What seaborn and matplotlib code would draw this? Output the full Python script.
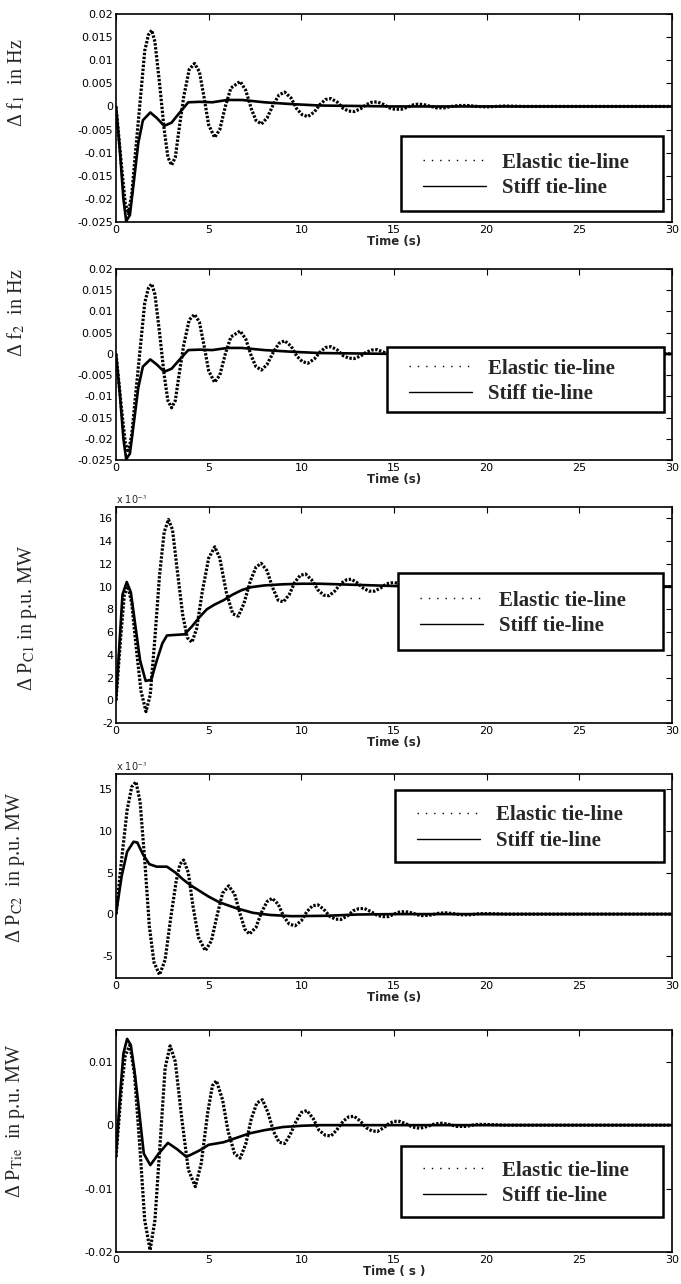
import numpy as np
import pandas as pd
import matplotlib
matplotlib.use("Agg")
import matplotlib.pyplot as plt
import seaborn as sns
from matplotlib.lines import Line2D
from matplotlib.patches import Rectangle
from matplotlib.ticker import FuncFormatter, MultipleLocator

# ---------------- data ----------------
# Panel 1 / 2 : frequency deviations (Hz)
f1_el_t = [0, 0.3, 0.5, 0.67, 0.85, 1.05, 1.3, 1.55, 1.75, 1.93, 2.1, 2.35, 2.6, 2.8, 3.0,
           3.2, 3.4, 3.65, 3.95, 4.24, 4.5, 4.75, 5.0, 5.32, 5.6, 5.9, 6.2, 6.7, 7.0, 7.3,
           7.55, 7.85, 8.15, 8.5, 8.8, 9.1, 9.45, 9.75, 10.05, 10.35, 10.7, 11.0, 11.3, 11.6,
           11.95, 12.25, 12.55, 12.85, 13.2, 13.5, 13.8, 14.1, 14.45, 14.75, 15.05, 15.4,
           15.7, 16.0, 16.3, 16.6, 17.0, 17.3, 17.7, 18.1, 18.5, 19.0, 19.5, 20.0, 21.0, 22.0, 30.0]
f1_el_v = [0, -0.013, -0.021, -0.0232, -0.019, -0.010, 0.001, 0.012, 0.0155, 0.0165, 0.014,
           0.005, -0.005, -0.011, -0.0127, -0.011, -0.005, 0.002, 0.0080, 0.0093, 0.0075,
           0.002, -0.004, -0.0067, -0.005, 0.000, 0.0040, 0.0054, 0.0035, -0.0005, -0.0030,
           -0.0038, -0.0025, 0.0005, 0.0025, 0.0031, 0.0018, -0.0005, -0.0018, -0.0022,
           -0.0012, 0.0004, 0.0015, 0.0017, 0.0009, -0.0004, -0.0010, -0.0011, -0.0005,
           0.0004, 0.0009, 0.0010, 0.0004, -0.0003, -0.0006, -0.0006, -0.0002, 0.0003,
           0.0005, 0.0004, 0.0000, -0.0003, -0.0003, 0.0000, 0.0002, 0.0002, 0.0000,
           -0.0001, 0.0001, 0.0, 0.0]
f1_st_t = [0, 0.2, 0.4, 0.55, 0.75, 1.0, 1.2, 1.45, 1.85, 2.2, 2.6, 3.0, 3.4, 3.9, 4.5, 5.2,
           6.0, 6.8, 8.0, 9.5, 11.0, 13.0, 15.0, 30.0]
f1_st_v = [0, -0.009, -0.020, -0.0248, -0.0235, -0.015, -0.008, -0.003, -0.0013, -0.0025,
           -0.0042, -0.0035, -0.0015, 0.0009, 0.0010, 0.0009, 0.0014, 0.0014, 0.0009,
           0.0005, 0.0002, 0.0001, 0.0, 0.0]
f2_el_t = list(f1_el_t)
f2_el_v = list(f1_el_v)
f2_st_t = list(f1_st_t)
f2_st_v = list(f1_st_v)

# Panel 3 : Delta P_C1 (x 10^-3 p.u. MW)
pc1_el_t = [0, 0.25, 0.45, 0.65, 0.85, 1.1, 1.35, 1.62, 1.85, 2.1, 2.35, 2.6, 2.83, 3.05,
            3.3, 3.6, 3.85, 4.1, 4.35, 4.65, 5.0, 5.33, 5.6, 5.95, 6.3, 6.6, 6.9, 7.25, 7.55,
            7.83, 8.15, 8.45, 8.75, 9.03, 9.35, 9.65, 9.95, 10.23, 10.55, 10.9, 11.2, 11.5,
            11.8, 12.15, 12.45, 12.7, 13.0, 13.35, 13.65, 13.95, 14.3, 14.6, 14.95, 15.25,
            15.6, 16.0, 16.4, 16.8, 17.2, 17.7, 18.2, 18.7, 19.2, 19.7, 20.2, 20.8, 21.4,
            22.0, 22.6, 23.3, 30.0]
pc1_el_v = [0, 5.5, 9.3, 10.0, 8.5, 4.5, 0.8, -1.0, 0.5, 5.5, 11.0, 14.8, 15.9, 15.0, 11.5,
            7.5, 5.5, 5.1, 6.3, 9.5, 12.5, 13.5, 12.5, 9.5, 7.6, 7.4, 8.5, 10.5, 11.7, 12.05,
            11.4, 9.9, 8.8, 8.65, 9.3, 10.4, 11.0, 11.1, 10.6, 9.7, 9.25, 9.2, 9.6, 10.3,
            10.6, 10.65, 10.35, 9.85, 9.6, 9.6, 9.9, 10.25, 10.35, 10.3, 10.05, 9.85, 9.8,
            10.0, 10.15, 10.2, 10.05, 9.92, 9.95, 10.08, 10.1, 10.0, 9.95, 10.0, 10.05, 10.0,
            10.0]
pc1_st_t = [0, 0.15, 0.35, 0.58, 0.8, 1.05, 1.3, 1.6, 1.9, 2.2, 2.5, 2.75, 3.2, 3.7, 4.1,
            4.5, 4.9, 5.3, 5.8, 6.3, 6.8, 7.3, 8.0, 9.0, 10.0, 11.0, 12.0, 13.0, 14.0, 15.0,
            17.0, 30.0]
pc1_st_v = [0, 4.0, 9.3, 10.4, 9.5, 6.5, 3.5, 1.7, 1.8, 3.5, 5.0, 5.7, 5.75, 5.8, 6.5, 7.3,
            8.0, 8.4, 8.8, 9.3, 9.7, 9.95, 10.1, 10.2, 10.25, 10.25, 10.2, 10.15, 10.1, 10.05,
            10.0, 10.0]

# Panel 4 : Delta P_C2 (x 10^-3 p.u. MW)
pc2_el_t = [0, 0.3, 0.6, 0.85, 1.08, 1.3, 1.55, 1.8, 2.05, 2.35, 2.65, 2.95, 3.25, 3.45,
            3.65, 3.9, 4.15, 4.45, 4.82, 5.15, 5.45, 5.75, 6.08, 6.4, 6.7, 6.95, 7.2, 7.55,
            7.85, 8.15, 8.43, 8.75, 9.05, 9.35, 9.66, 10.0, 10.3, 10.6, 10.9, 11.2, 11.55,
            11.85, 12.13, 12.5, 12.8, 13.1, 13.4, 13.75, 14.1, 14.4, 14.7, 15.0, 15.3, 15.6,
            15.95, 16.3, 16.6, 17.0, 17.4, 17.8, 18.2, 18.6, 19.1, 19.6, 20.2, 21.0, 30.0]
pc2_el_v = [0, 6.5, 12.5, 15.3, 15.9, 13.5, 6.5, -1.5, -5.8, -7.3, -5.5, -0.5, 4.0, 6.0,
            6.5, 5.0, 1.0, -2.8, -4.4, -3.2, -0.2, 2.5, 3.4, 2.4, 0.0, -1.8, -2.4, -1.6, 0.2,
            1.5, 1.9, 1.2, -0.3, -1.2, -1.4, -0.8, 0.3, 1.0, 1.1, 0.6, -0.3, -0.6, -0.65,
            -0.2, 0.4, 0.65, 0.68, 0.3, -0.15, -0.3, -0.3, 0.0, 0.25, 0.3, 0.15, -0.1, -0.2,
            -0.1, 0.1, 0.15, 0.05, -0.08, -0.08, 0.05, 0.05, 0.0, 0.0]
pc2_st_t = [0, 0.3, 0.6, 0.95, 1.15, 1.45, 1.8, 2.2, 2.75, 3.2, 3.6, 4.0, 4.5, 5.0, 5.6,
            6.5, 7.4, 8.3, 9.5, 11.4, 13.0, 15.0, 30.0]
pc2_st_v = [0, 4.5, 7.5, 8.7, 8.6, 7.2, 6.0, 5.7, 5.7, 5.0, 4.2, 3.5, 2.8, 2.1, 1.4, 0.7,
            0.15, -0.1, -0.25, -0.2, -0.05, 0.0, 0.0]

# Panel 5 : Delta P_Tie (p.u. MW)
ptie_el_t = [0, 0.3, 0.5, 0.75, 1.0, 1.3, 1.55, 1.84, 2.1, 2.4, 2.65, 2.92, 3.2, 3.55, 3.9,
             4.28, 4.6, 4.95, 5.2, 5.42, 5.75, 6.05, 6.4, 6.7, 7.0, 7.3, 7.6, 7.9, 8.2, 8.5,
             8.8, 9.1, 9.4, 9.7, 10.0, 10.3, 10.65, 10.95, 11.3, 11.6, 11.9, 12.25, 12.55,
             12.85, 13.2, 13.5, 13.8, 14.1, 14.45, 14.75, 15.0, 15.3, 15.65, 16.0, 16.4,
             16.8, 17.2, 17.6, 18.0, 18.4, 18.9, 19.4, 20.0, 21.0, 30.0]
ptie_el_v = [-0.005, 0.006, 0.011, 0.0126, 0.008, -0.004, -0.015, -0.0197, -0.015, -0.002,
             0.009, 0.0125, 0.010, 0.001, -0.007, -0.0097, -0.006, 0.002, 0.0062, 0.007,
             0.004, -0.001, -0.0045, -0.0052, -0.003, 0.001, 0.0035, 0.004, 0.002, -0.001,
             -0.0027, -0.0029, -0.0015, 0.0005, 0.002, 0.0023, 0.001, -0.0008, -0.0016,
             -0.0017, -0.0008, 0.0006, 0.0013, 0.0014, 0.0006, -0.0004, -0.0009, -0.0010,
             -0.0004, 0.0003, 0.0006, 0.0006, 0.0002, -0.0003, -0.0005, -0.0002, 0.0002,
             0.0003, 0.0001, -0.0002, -0.0002, 0.0001, 0.0001, 0.0, 0.0]
ptie_st_t = [0, 0.2, 0.4, 0.6, 0.8, 1.0, 1.2, 1.5, 1.85, 2.3, 2.8, 3.3, 3.8, 4.5, 5.0, 5.8,
             6.5, 7.2, 8.0, 9.0, 10.0, 11.0, 30.0]
ptie_st_v = [-0.005, 0.004, 0.0113, 0.0136, 0.0126, 0.0085, 0.0035, -0.0045, -0.0063,
             -0.0045, -0.0028, -0.0038, -0.0050, -0.0040, -0.0031, -0.0027, -0.0020,
             -0.0013, -0.0008, -0.0003, -0.0001, 0.0, 0.0]

x_ticks = [0, 5, 10, 15, 20, 25, 30]
legend_labels = ["Elastic tie-line", "Stiff tie-line"]
y_labels = [r"Δ f$_1$  in Hz", r"Δ f$_2$  in Hz", r"Δ P$_{\mathrm{C1}}$ in p.u. MW",
            r"Δ P$_{\mathrm{C2}}$  in p.u. MW", r"Δ P$_{\mathrm{Tie}}$  in p.u. MW"]
x_labels = ["Time (s)", "Time (s)", "Time (s)", "Time (s)", "Time ( s )"]

# ---------------- styling / layout ----------------
sns.set_theme(style="white")
plt.rcParams["font.family"] = ["DejaVu Sans"]
plt.rcParams["mathtext.fontset"] = "stix"

W, H = 681, 1284
fig = plt.figure(figsize=(W / 100, H / 100), dpi=100)


def rect(l, t, r, b):
    return [l / W, 1 - b / H, (r - l) / W, (b - t) / H]


panels = [
    dict(el=(f1_el_t, f1_el_v), st=(f1_st_t, f1_st_v), box=(116, 14, 672, 222),
         ylim=(-0.025, 0.02), ystep=0.005, ylab=(16, 83), leg=(401, 136, 663, 211), exp=False),
    dict(el=(f2_el_t, f2_el_v), st=(f2_st_t, f2_st_v), box=(116, 269, 672, 460),
         ylim=(-0.025, 0.02), ystep=0.005, ylab=(16, 313), leg=(387, 347, 664, 412), exp=False),
    dict(el=(pc1_el_t, pc1_el_v), st=(pc1_st_t, pc1_st_v), box=(116, 507, 672, 723),
         ylim=(-2, 17), ystep=2, ylab=(28, 618), leg=(398, 573, 663, 650), exp=True),
    dict(el=(pc2_el_t, pc2_el_v), st=(pc2_st_t, pc2_st_v), box=(116, 774, 672, 978),
         ylim=(-7.68, 16.84), ystep=5, ylab=(16, 867), leg=(395, 790, 664, 862), exp=True),
    dict(el=(ptie_el_t, ptie_el_v), st=(ptie_st_t, ptie_st_v), box=(116, 1030, 672, 1252),
         ylim=(-0.02, 0.015), ystep=0.01, ylab=(16, 1121), leg=(401, 1146, 663, 1217), exp=False),
]


def fmt(v, p):
    v = round(v, 6)
    if abs(v) < 1e-12:
        return "0"
    return "%g" % v


for i, P in enumerate(panels):
    ax = fig.add_axes(rect(*P["box"]))
    df_el = pd.DataFrame({"t": P["el"][0], "v": P["el"][1]})
    df_st = pd.DataFrame({"t": P["st"][0], "v": P["st"][1]})
    sns.lineplot(data=df_el, x="t", y="v", ax=ax, color="black", lw=2.3,
                 linestyle=(0, (0.75, 0.5)), estimator=None, sort=False)
    sns.lineplot(data=df_st, x="t", y="v", ax=ax, color="black", lw=1.9,
                 estimator=None, sort=False)
    ax.set_xlim(0, 30)
    ax.set_ylim(*P["ylim"])
    ax.set_xticks(x_ticks)
    ax.yaxis.set_major_locator(MultipleLocator(P["ystep"]))
    ax.xaxis.set_major_formatter(FuncFormatter(fmt))
    ax.yaxis.set_major_formatter(FuncFormatter(fmt))
    ax.tick_params(direction="in", length=4, width=0.8, top=True, right=True,
                   labelsize=8, pad=2, colors="black")
    for s in ax.spines.values():
        s.set_color("black")
        s.set_linewidth(1.2)
    ax.set_xlabel(x_labels[i], fontsize=8.5, fontweight="bold", labelpad=0.5)
    ax.set_ylabel(y_labels[i], fontsize=14.5, family="Liberation Serif", va="center")
    ax.yaxis.set_label_coords(P["ylab"][0] / W, 1 - P["ylab"][1] / H,
                              transform=fig.transFigure)
    if P["exp"]:
        ax.text(0.0, 1.005, r"x 10$^{-3}$", transform=ax.transAxes, fontsize=7,
                va="bottom", ha="left")
    # legend box
    l, t, r, b = P["leg"]
    ax.add_patch(Rectangle((l / W, 1 - b / H), (r - l) / W, (b - t) / H,
                           transform=fig.transFigure, facecolor="white",
                           edgecolor="black", lw=1.8, zorder=4, clip_on=False))
    handles = [Line2D([], [], color="black", lw=1.0, linestyle=(0, (1, 5))),
               Line2D([], [], color="black", lw=1.0)]
    leg = ax.legend(handles, legend_labels, loc="center left",
                    bbox_to_anchor=((l + 22) / W, 1 - ((t + b) / 2 + 2) / H),
                    bbox_transform=fig.transFigure, frameon=False,
                    prop={"family": "Liberation Serif", "weight": "bold", "size": 15},
                    handlelength=3.0, handletextpad=0.77, labelspacing=0.28,
                    borderpad=0, borderaxespad=0)
    leg.set_zorder(5)

fig.savefig("out.png", dpi=100)
